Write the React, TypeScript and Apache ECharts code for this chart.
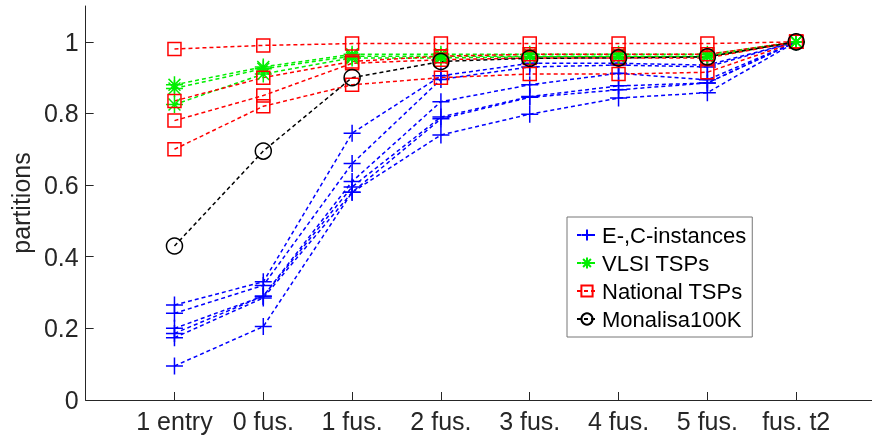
import React, { useEffect, useRef } from "react";
import * as echarts from "echarts";

const categories = ["1 entry", "0 fus.", "1 fus.", "2 fus.", "3 fus.", "4 fus.", "5 fus.", "fus. t2"];
const yTicks = [0, 0.2, 0.4, 0.6, 0.8, 1];

const ecInstances = [
  [0.265, 0.33, 0.745, 0.905, 0.94, 0.94, 0.935, 1],
  [0.242, 0.32, 0.66, 0.895, 0.93, 0.935, 0.93, 1],
  [0.2, 0.29, 0.61, 0.833, 0.88, 0.912, 0.894, 1],
  [0.186, 0.29, 0.595, 0.79, 0.847, 0.877, 0.885, 1],
  [0.174, 0.285, 0.58, 0.785, 0.845, 0.866, 0.885, 1],
  [0.095, 0.205, 0.58, 0.74, 0.798, 0.843, 0.858, 1],
];

const vlsiTsps = [
  [0.88, 0.93, 0.965, 0.965, 0.965, 0.965, 0.965, 1],
  [0.87, 0.925, 0.96, 0.96, 0.96, 0.96, 0.96, 1],
  [0.825, 0.91, 0.955, 0.955, 0.958, 0.958, 0.958, 1],
];

const nationalTsps = [
  [0.98, 0.99, 0.995, 0.995, 0.995, 0.995, 0.995, 1],
  [0.835, 0.9, 0.945, 0.96, 0.965, 0.965, 0.965, 1],
  [0.78, 0.85, 0.94, 0.95, 0.955, 0.955, 0.955, 1],
  [0.7, 0.82, 0.88, 0.9, 0.91, 0.91, 0.915, 1],
];

const monalisa = [0.43, 0.695, 0.9, 0.945, 0.954, 0.955, 0.958, 1];

const NAMES = ["E-,C-instances", "VLSI TSPs", "National TSPs", "Monalisa100K"];
const PLUS = "path://M0,5L10,5M5,0L5,10";
const STAR = "path://M0,5L10,5M5,0L5,10M1.5,1.5L8.5,8.5M8.5,1.5L1.5,8.5";

function toPoints(values: number[]) {
  return values.map((v, i) => [i + 1, v]);
}

function makeSeries(name: string, values: number[], color: string, symbol: string, size: number) {
  return {
    type: "line",
    name,
    data: toPoints(values),
    symbol,
    symbolSize: size,
    showAllSymbol: true,
    lineStyle: { color, width: 1.5, type: [4, 3] },
    itemStyle: { color: "transparent", borderColor: color, borderWidth: 1.5 },
    emphasis: { disabled: true },
  };
}

export default function App() {
  const ref = useRef<HTMLDivElement>(null);
  useEffect(() => {
    if (!ref.current) return;
    const chart = echarts.init(ref.current, null, { renderer: "svg" });
    const series: any[] = [];
    ecInstances.forEach((s) => series.push(makeSeries(NAMES[0], s, "#0000ff", PLUS, 17)));
    vlsiTsps.forEach((s) => series.push(makeSeries(NAMES[1], s, "#00ee00", STAR, 17)));
    nationalTsps.forEach((s) => series.push(makeSeries(NAMES[2], s, "#ff0000", "rect", 13)));
    series.push(makeSeries(NAMES[3], monalisa, "#000000", "circle", 16));

    const axisColor = "#262626";
    chart.setOption({
      animation: false,
      textStyle: { fontFamily: "Liberation Sans, Arial, sans-serif" },
      grid: { left: 78, right: 0, top: 6, bottom: 44, containLabel: false },
      legend: {
        data: NAMES,
        orient: "vertical",
        left: 567,
        top: 217,
        backgroundColor: "#fff",
        borderColor: "#777",
        borderWidth: 1,
        padding: [7, 6, 7, 9],
        itemGap: 6,
        itemWidth: 20,
        itemHeight: 14,
        textStyle: { fontSize: 22, color: "#000", fontFamily: "Liberation Sans, Arial, sans-serif" },
      },
      xAxis: {
        type: "value",
        min: 0,
        max: 9,
        splitLine: { show: false },
        axisLine: { lineStyle: { color: axisColor, width: 1 } },
        axisTick: {
          inside: true,
          length: 8,
          customValues: categories.map((_, i) => i + 1),
          lineStyle: { color: axisColor },
        },
        axisLabel: {
          customValues: categories.map((_, i) => i + 1),
          formatter: (v: number) => categories[Math.round(v) - 1] ?? "",
          fontSize: 25,
          color: axisColor,
          margin: 8,
        },
      },
      yAxis: {
        type: "value",
        min: 0,
        max: 1.1,
        name: "partitions",
        nameLocation: "middle",
        nameGap: 52,
        nameTextStyle: { fontSize: 25, color: axisColor },
        splitLine: { show: false },
        axisLine: { show: true, lineStyle: { color: axisColor, width: 1 } },
        axisTick: { show: true, inside: true, length: 8, customValues: yTicks, lineStyle: { color: axisColor } },
        axisLabel: {
          customValues: yTicks,
          formatter: (v: number) => String(Math.round(v * 10) / 10),
          fontSize: 25,
          color: axisColor,
          margin: 7,
        },
      },
      series,
    });
    return () => chart.dispose();
  }, []);
  return (
    <div style={{ position: "fixed", left: 0, top: 0, width: 872, height: 444, overflow: "hidden" }}>
      <div ref={ref} style={{ position: "absolute", left: 0, top: 0, width: 885, height: 444 }} />
    </div>
  );
}
